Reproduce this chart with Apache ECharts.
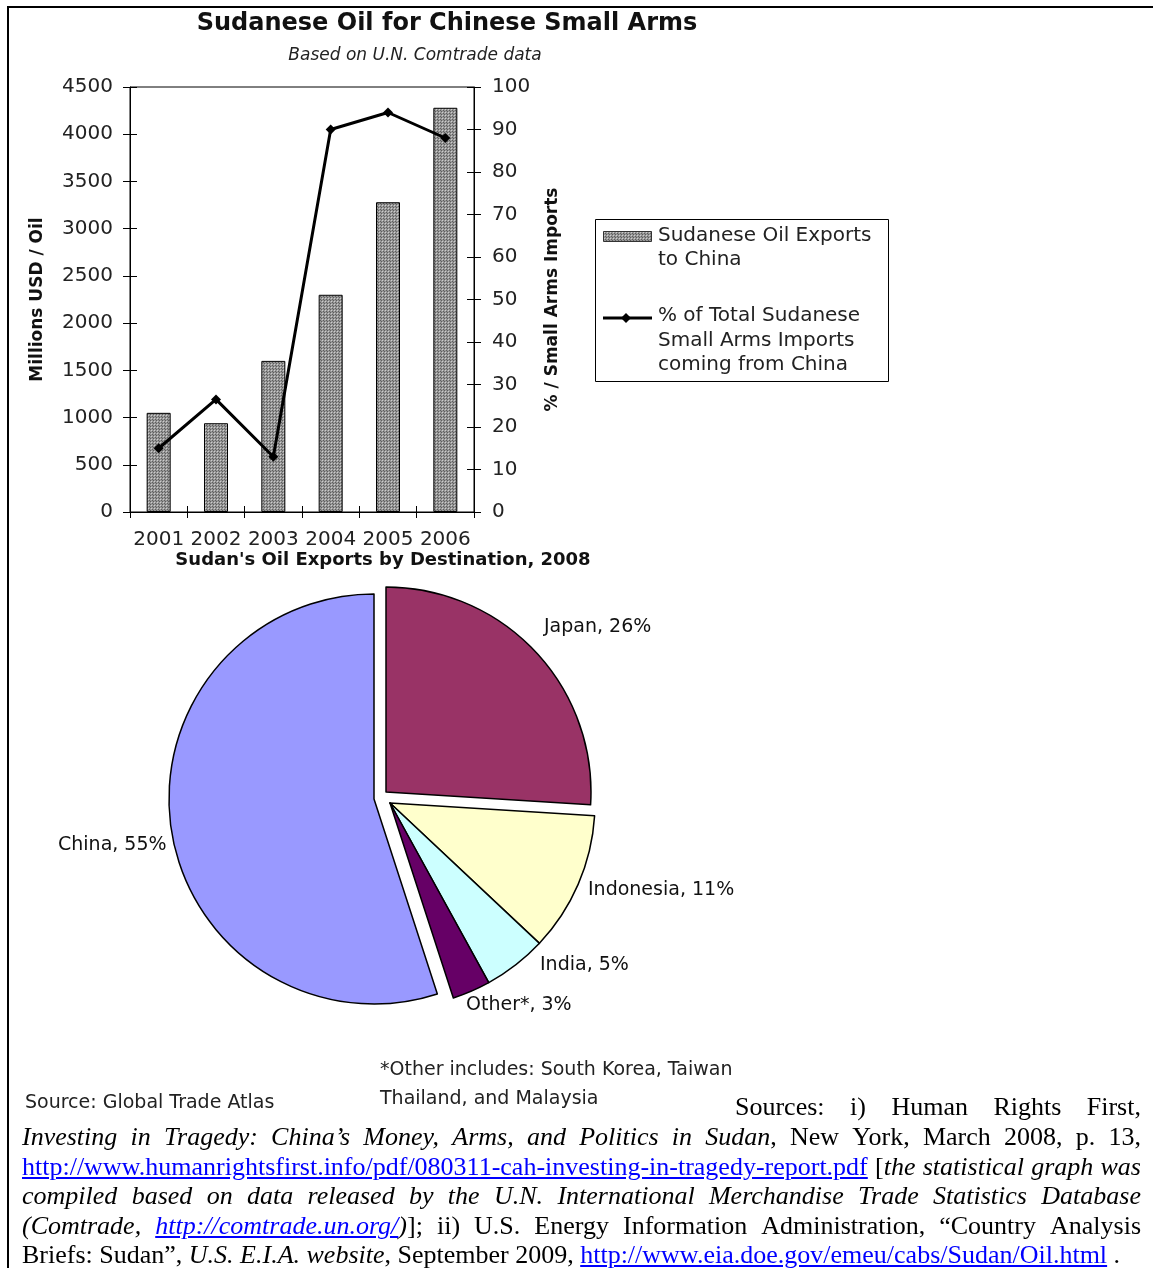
<!DOCTYPE html>
<html>
<head>
<meta charset="utf-8">
<script src="https://cdn.jsdelivr.net/npm/echarts@6/dist/echarts.min.js"></script>
<style>
html,body{margin:0;padding:0;background:#fff;}
#wrap{position:relative;width:1153px;height:1268px;overflow:hidden;background:#fff;}
#chart{position:absolute;left:0;top:0;width:1153px;height:1268px;}
#frameTop{position:absolute;left:7px;top:6px;width:1146px;height:2px;background:#000;}
#frameLeft{position:absolute;left:7px;top:6px;width:2px;height:1262px;background:#000;}
.ln{position:absolute;font-family:'Liberation Serif','Times New Roman',serif;font-size:26px;line-height:30px;color:#000;white-space:nowrap;}
.just{display:flex;justify-content:space-between;}
.ln a{color:#0000ff;text-decoration:underline;}
</style>
</head>
<body>
<div id="wrap">
  <div id="chart"></div>
  <div id="frameTop"></div>
  <div id="frameLeft"></div>
  <div id="para"></div>
</div>
<script>
// ---------- data ----------
const years = ['2001', '2002', '2003', '2004', '2005', '2006'];
const oilExports = [1050, 940, 1600, 2300, 3280, 4280];      // Millions USD
const armsShare = [15, 26.5, 13, 90, 94, 88];                 // % from China
const pieNames = ['Japan', 'Indonesia', 'India', 'Other*', 'China'];
const pieValues = [26, 11, 5, 3, 55];
const pieColors = ['#993366', '#FFFFCC', '#CCFFFF', '#660066', '#9999FF'];

// ---------- bar fill pattern ----------
function makePattern() {
  const c = document.createElement('canvas');
  c.width = 3; c.height = 3;
  const g = c.getContext('2d');
  g.fillStyle = '#979797'; g.fillRect(0, 0, 3, 3);
  g.fillStyle = '#5e5e5e'; g.fillRect(0, 0, 1, 1); g.fillRect(2, 2, 1, 1);
  g.fillStyle = '#cdcdcd'; g.fillRect(1, 1, 1, 1);
  return c;
}
const patternCanvas = makePattern();
const barFill = { image: patternCanvas, repeat: 'repeat' };

const FONT = '"DejaVu Sans", sans-serif';

// label positions for pie labels (text placement only)
const pieLabelPos = {
  'Japan': [544, 627],
  'Indonesia': [588, 890],
  'India': [540, 965],
  'Other*': [466, 1005],
  'China': [58, 845]
};

function pieSeries(owned, center) {
  return {
    type: 'pie',
    radius: 205,
    center: center,
    startAngle: 90,
    clockwise: true,
    avoidLabelOverlap: false,
    silent: true,
    selectedMode: false,
    animation: false,
    labelLine: { show: false },
    label: {
      position: 'outside',
      formatter: '{b}, {c}%',
      fontFamily: FONT,
      fontSize: 19,
      color: '#111'
    },
    labelLayout: function (p) {
      const pos = pieLabelPos[pieNames[p.dataIndex]];
      return { x: pos[0], y: pos[1], align: 'left', verticalAlign: 'middle' };
    },
    data: pieNames.map(function (n, i) {
      const mine = owned.indexOf(n) >= 0;
      return {
        name: n,
        value: pieValues[i],
        itemStyle: mine
          ? { color: pieColors[i], borderColor: '#000', borderWidth: 1.5 }
          : { color: 'rgba(0,0,0,0)', borderWidth: 0 },
        label: { show: mine }
      };
    })
  };
}

const chart = echarts.init(document.getElementById('chart'), null, { renderer: 'canvas' });

const axisLabelStyle = { fontFamily: FONT, fontSize: 20, color: '#222', formatter: function (v) { return String(v); } };

const option = {
  animation: false,
  backgroundColor: 'transparent',
  title: [
    {
      text: 'Sudanese Oil for Chinese Small Arms',
      left: 447, top: 12, textAlign: 'center', padding: 0,
      textStyle: { fontFamily: FONT, fontWeight: 'bold', fontSize: 24, color: '#111' }
    },
    {
      text: 'Based on U.N. Comtrade data',
      left: 415, top: 47, textAlign: 'center', padding: 0,
      textStyle: { fontFamily: FONT, fontStyle: 'italic', fontWeight: 'normal', fontSize: 17, color: '#222' }
    },
    {
      text: "Sudan's Oil Exports by Destination, 2008",
      left: 383, top: 551, textAlign: 'center', padding: 0,
      textStyle: { fontFamily: FONT, fontWeight: 'bold', fontSize: 18, color: '#111' }
    }
  ],
  grid: {
    left: 130, top: 87, width: 344, height: 425,
    show: true, borderColor: '#000', borderWidth: 1, backgroundColor: 'transparent'
  },
  xAxis: [
    {
      type: 'category', data: years, position: 'bottom',
      axisLine: { lineStyle: { color: '#000', width: 1 } },
      axisTick: { show: true, length: 6, lineStyle: { color: '#000' } },
      axisLabel: Object.assign({ interval: 0, margin: 18 }, axisLabelStyle),
      splitLine: { show: false }
    },
    {
      type: 'category', data: years, position: 'bottom',
      axisLine: { show: false },
      axisTick: { show: true, inside: true, length: 6, lineStyle: { color: '#000' } },
      axisLabel: { show: false },
      splitLine: { show: false }
    }
  ],
  yAxis: [
    {
      type: 'value', min: 0, max: 4500, interval: 500, position: 'left',
      axisLine: { show: true, lineStyle: { color: '#000' } },
      axisTick: { show: true, length: 7, lineStyle: { color: '#000' } },
      axisLabel: Object.assign({ margin: 17 }, axisLabelStyle),
      splitLine: { show: false },
      name: 'Millions USD / Oil', nameLocation: 'middle', nameGap: 84,
      nameTextStyle: { fontFamily: FONT, fontWeight: 'bold', fontSize: 17, color: '#111' }
    },
    {
      type: 'value', min: 0, max: 4500, interval: 500, position: 'left',
      axisLine: { show: false },
      axisTick: { show: true, inside: true, length: 7, lineStyle: { color: '#000' } },
      axisLabel: { show: false },
      splitLine: { show: false }
    },
    {
      type: 'value', min: 0, max: 100, interval: 10, position: 'right',
      axisLine: { show: true, lineStyle: { color: '#000' } },
      axisTick: { show: true, length: 7, lineStyle: { color: '#000' } },
      axisLabel: Object.assign({ margin: 18 }, axisLabelStyle),
      splitLine: { show: false },
      name: '% / Small Arms Imports', nameLocation: 'middle', nameGap: 70,
      nameTextStyle: { fontFamily: FONT, fontWeight: 'bold', fontSize: 17, color: '#111' }
    },
    {
      type: 'value', min: 0, max: 100, interval: 10, position: 'right',
      axisLine: { show: false },
      axisTick: { show: true, inside: true, length: 7, lineStyle: { color: '#000' } },
      axisLabel: { show: false },
      splitLine: { show: false }
    }
  ],
  series: [
    {
      name: 'Sudanese Oil Exports to China',
      type: 'bar', xAxisIndex: 0, yAxisIndex: 0,
      data: oilExports, barWidth: 24, silent: true,
      itemStyle: { color: barFill, borderColor: '#000', borderWidth: 1 }
    },
    {
      name: '% of Total Sudanese Small Arms Imports coming from China',
      type: 'line', xAxisIndex: 0, yAxisIndex: 2,
      data: armsShare, silent: true,
      symbol: 'diamond', symbolSize: 10,
      lineStyle: { color: '#000', width: 3 },
      itemStyle: { color: '#000' }
    },
    pieSeries(['Japan'], [386, 792]),
    pieSeries(['Indonesia', 'India', 'Other*'], [390, 803]),
    pieSeries(['China'], [374, 799])
  ],
  graphic: [
    // legend box for the bar/line chart
    { type: 'rect', shape: { x: 595.5, y: 219.5, width: 293, height: 162 }, style: { fill: '#fff', stroke: '#000', lineWidth: 1 }, z: 10 },
    { type: 'rect', shape: { x: 603.5, y: 231.5, width: 48, height: 10 }, style: { fill: barFill, stroke: '#333', lineWidth: 1 }, z: 11 },
    { type: 'text', x: 658, y: 224, z: 11,
      style: { text: 'Sudanese Oil Exports\nto China', font: '20px "DejaVu Sans"', fill: '#222', lineHeight: 24 } },
    { type: 'line', shape: { x1: 603, y1: 318, x2: 652, y2: 318 }, style: { stroke: '#000', lineWidth: 3 }, z: 11 },
    { type: 'polygon', shape: { points: [[626, 313], [631, 318], [626, 323], [621, 318]] }, style: { fill: '#000' }, z: 12 },
    { type: 'text', x: 658, y: 304, z: 11,
      style: { text: '% of Total Sudanese\nSmall Arms Imports\ncoming from China', font: '20px "DejaVu Sans"', fill: '#222', lineHeight: 24.5 } },
    // pie footnotes
    { type: 'text', x: 380, y: 1061,
      style: { text: '*Other includes: South Korea, Taiwan', font: '19px "DejaVu Sans"', fill: '#222' } },
    { type: 'text', x: 380, y: 1090,
      style: { text: 'Thailand, and Malaysia', font: '19px "DejaVu Sans"', fill: '#222' } },
    { type: 'text', x: 25, y: 1094,
      style: { text: 'Source: Global Trade Atlas', font: '19px "DejaVu Sans"', fill: '#222' } }
  ]
};
chart.setOption(option);

// ---------- source paragraph (justified lines) ----------
const paraLines = [
  { left: 735, width: 406, top: 1092, just: true,
    words: ['Sources:', 'i)', 'Human', 'Rights', 'First,'] },
  { left: 22, width: 1119, top: 1122, just: true,
    words: ['<i>Investing</i>', '<i>in</i>', '<i>Tragedy:</i>', '<i>China’s</i>', '<i>Money,</i>', '<i>Arms,</i>', '<i>and</i>', '<i>Politics</i>', '<i>in</i>', '<i>Sudan</i>,', 'New', 'York,', 'March', '2008,', 'p.', '13,'] },
  { left: 22, width: 1119, top: 1152, just: true,
    words: ['<a>http://www.humanrightsfirst.info/pdf/080311-cah-investing-in-tragedy-report.pdf</a>', '[<i>the</i>', '<i>statistical</i>', '<i>graph</i>', '<i>was</i>'] },
  { left: 22, width: 1119, top: 1181, just: true,
    words: ['<i>compiled</i>', '<i>based</i>', '<i>on</i>', '<i>data</i>', '<i>released</i>', '<i>by</i>', '<i>the</i>', '<i>U.N.</i>', '<i>International</i>', '<i>Merchandise</i>', '<i>Trade</i>', '<i>Statistics</i>', '<i>Database</i>'] },
  { left: 22, width: 1119, top: 1211, just: true,
    words: ['<i>(Comtrade,</i>', '<i><a>http://comtrade.un.org/</a>)</i>];', 'ii)', 'U.S.', 'Energy', 'Information', 'Administration,', '“Country', 'Analysis'] },
  { left: 22, width: 1119, top: 1240, just: false,
    words: ['Briefs:', 'Sudan”,', '<i>U.S.</i>', '<i>E.I.A.</i>', '<i>website</i>,', 'September', '2009,', '<a>http://www.eia.doe.gov/emeu/cabs/Sudan/Oil.html</a>', '.'] }
];
const para = document.getElementById('para');
paraLines.forEach(function (L) {
  const d = document.createElement('div');
  d.className = 'ln' + (L.just ? ' just' : '');
  d.style.left = L.left + 'px';
  d.style.top = L.top + 'px';
  d.style.width = L.width + 'px';
  if (L.just) {
    L.words.forEach(function (w) {
      const s = document.createElement('span');
      s.innerHTML = w;
      d.appendChild(s);
    });
  } else {
    d.innerHTML = L.words.join(' ');
  }
  para.appendChild(d);
});
</script>
</body>
</html>
